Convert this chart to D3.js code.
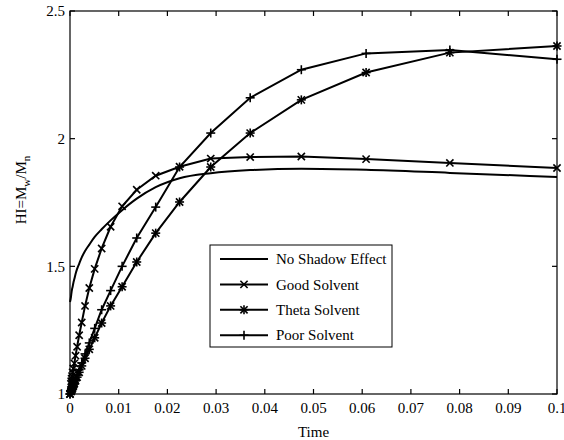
<!DOCTYPE html>
<html>
<head>
<meta charset="utf-8">
<script src="https://d3js.org/d3.v7.min.js"></script>
<style>
  body { margin: 0; background: #fff; }
  text { font-family: "Liberation Serif", "Times New Roman", serif; fill: #000; }
</style>
</head>
<body>
<svg width="564" height="440"></svg>
<script>
// time samples (solver output, shared by all series)
var times = [0, 0.0002, 0.00026, 0.00033, 0.00042, 0.00054, 0.00069, 0.00089, 0.00114,
  0.00146, 0.00188, 0.00241, 0.00309, 0.00396, 0.00507, 0.0065, 0.00834, 0.0107,
  0.0137, 0.0176, 0.0225, 0.0289, 0.037, 0.0475, 0.0608, 0.078, 0.1];

var noShadow = [1.36, 1.38, 1.39, 1.40, 1.41, 1.42, 1.435, 1.45, 1.47,
  1.49, 1.51, 1.535, 1.56, 1.585, 1.615, 1.645, 1.68, 1.72,
  1.765, 1.81, 1.845, 1.865, 1.877, 1.882, 1.878, 1.866, 1.85];

var goodSolvent = [1.0, 1.04, 1.05, 1.06, 1.07, 1.085, 1.10, 1.12, 1.15,
  1.185, 1.23, 1.28, 1.345, 1.415, 1.49, 1.57, 1.655, 1.735,
  1.80, 1.855, 1.89, 1.922, 1.928, 1.93, 1.92, 1.905, 1.885];

var thetaSolvent = [1.0, 1.009, 1.012, 1.015, 1.019, 1.024, 1.031, 1.04, 1.052,
  1.066, 1.085, 1.11, 1.14, 1.175, 1.22, 1.278, 1.345, 1.42,
  1.517, 1.63, 1.752, 1.889, 2.022, 2.152, 2.259, 2.337, 2.363];

var poorSolvent = [1.0, 1.011, 1.014, 1.018, 1.022, 1.028, 1.036, 1.046, 1.058,
  1.074, 1.095, 1.122, 1.157, 1.2, 1.257, 1.33, 1.405, 1.5,
  1.611, 1.732, 1.889, 2.022, 2.16, 2.27, 2.334, 2.347, 2.311];

var legendNames = ["No Shadow Effect", "Good Solvent", "Theta Solvent", "Poor Solvent"];
var xTicks = [0, 0.01, 0.02, 0.03, 0.04, 0.05, 0.06, 0.07, 0.08, 0.09, 0.1];
var yTicks = [1, 1.5, 2, 2.5];

var svg = d3.select("svg");
// plot box (window.top is reserved, so no "top" here)
var pLeft = 70, pRight = 557, pTop = 11, pBottom = 394;

var x = d3.scaleLinear().domain([0, 0.1]).range([pLeft, pRight]);
var y = d3.scaleLinear().domain([1, 2.5]).range([pBottom, pTop]);

// marker shapes
function marker(g, type, cx, cy) {
  var s = 4.5, d = 3.6;
  var segs = [];
  if (type == "x" || type == "*") segs.push([-d, -d, d, d], [-d, d, d, -d]);
  if (type == "+" || type == "*") segs.push([-s, 0, s, 0], [0, -s, 0, s]);
  segs.forEach(function(p) {
    g.append("line")
      .attr("x1", cx + p[0]).attr("y1", cy + p[1])
      .attr("x2", cx + p[2]).attr("y2", cy + p[3])
      .attr("stroke", "#000").attr("stroke-width", 1.6);
  });
}

var series = [
  {name: legendNames[0], vals: noShadow, mk: null},
  {name: legendNames[1], vals: goodSolvent, mk: "x"},
  {name: legendNames[2], vals: thetaSolvent, mk: "*"},
  {name: legendNames[3], vals: poorSolvent, mk: "+"}
];

var plot = svg.append("g");
series.forEach(function(s) {
  var pts = times.map(function(t, i) { return [t, s.vals[i]]; });
  var line = d3.line()
    .x(function(d) { return x(d[0]); })
    .y(function(d) { return y(d[1]); })
    .curve(s.mk ? d3.curveLinear : d3.curveMonotoneX);
  plot.append("path")
    .attr("d", line(pts))
    .attr("fill", "none")
    .attr("stroke", "#000")
    .attr("stroke-width", 2);
  if (s.mk) {
    var mg = plot.append("g");
    pts.forEach(function(p) { marker(mg, s.mk, x(p[0]), y(p[1])); });
  }
});

// axes box with inward ticks
var ax = svg.append("g").attr("stroke", "#000").attr("stroke-width", 1.2);
ax.append("rect")
  .attr("x", pLeft).attr("y", pTop)
  .attr("width", pRight - pLeft).attr("height", pBottom - pTop)
  .attr("fill", "none");
xTicks.forEach(function(t) {
  ax.append("line").attr("x1", x(t)).attr("x2", x(t)).attr("y1", pBottom).attr("y2", pBottom - 5);
  ax.append("line").attr("x1", x(t)).attr("x2", x(t)).attr("y1", pTop).attr("y2", pTop + 5);
});
yTicks.forEach(function(v) {
  ax.append("line").attr("x1", pLeft).attr("x2", pLeft + 5).attr("y1", y(v)).attr("y2", y(v));
  ax.append("line").attr("x1", pRight).attr("x2", pRight - 5).attr("y1", y(v)).attr("y2", y(v));
});

svg.append("g").selectAll("text")
  .data(xTicks).enter().append("text")
  .attr("x", function(d) { return x(d); })
  .attr("y", 413)
  .attr("text-anchor", "middle")
  .style("font-size", "15px")
  .text(function(d) { return +d.toFixed(2); });

svg.append("g").selectAll("text")
  .data(yTicks).enter().append("text")
  .attr("x", 65)
  .attr("y", function(d) { return y(d); })
  .attr("dy", "0.35em")
  .attr("text-anchor", "end")
  .style("font-size", "15px")
  .text(function(d) { return d; });

svg.append("text")
  .attr("x", x(0.05))
  .attr("y", 437)
  .attr("text-anchor", "middle")
  .style("font-size", "15px")
  .text("Time");

var yl = svg.append("text")
  .attr("transform", "translate(26,190) rotate(-90)")
  .attr("text-anchor", "middle")
  .style("font-size", "15px");
yl.append("tspan").text("HI=M");
yl.append("tspan").attr("dy", 4).style("font-size", "11px").text("w");
yl.append("tspan").attr("dy", -4).text("/M");
yl.append("tspan").attr("dy", 4).style("font-size", "11px").text("n");

// legend
var lg = svg.append("g");
lg.append("rect")
  .attr("x", 210).attr("y", 245).attr("width", 182).attr("height", 102)
  .attr("fill", "#fff").attr("stroke", "#000").attr("stroke-width", 1);
series.forEach(function(s, i) {
  var ry = 259 + i * 25.4;
  lg.append("line")
    .attr("x1", 220).attr("x2", 268).attr("y1", ry).attr("y2", ry)
    .attr("stroke", "#000").attr("stroke-width", 2);
  if (s.mk) marker(lg, s.mk, 244, ry);
  lg.append("text")
    .attr("x", 276).attr("y", ry)
    .attr("dy", "0.35em")
    .style("font-size", "15px")
    .text(s.name);
});
</script>
</body>
</html>
